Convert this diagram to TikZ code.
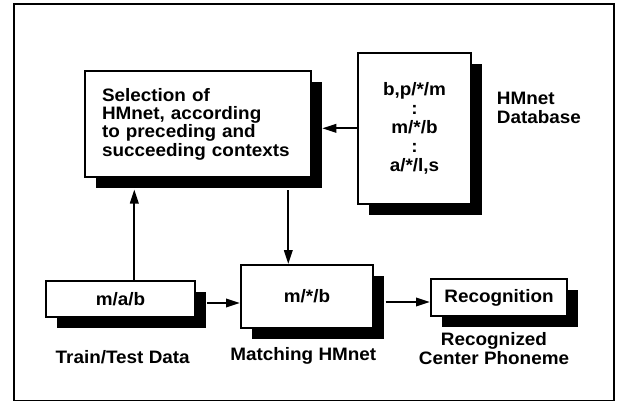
\documentclass[tikz,border=0pt]{standalone}
\usepackage{fontspec}
\setmainfont{Liberation Sans}[FakeStretch=1.05]
\usetikzlibrary{arrows.meta,shadows}
\begin{document}
\begin{tikzpicture}[x=1pt,y=-1pt,
  box/.style={draw=black,line width=2pt,fill=white,inner sep=0pt,
    drop shadow={shadow xshift=10.5pt,shadow yshift=-11pt,fill=black,opacity=1}},
  lbl/.style={inner sep=0pt,font=\fontsize{18}{18.3}\selectfont\bfseries},
  arr/.style={line width=2pt,-{Triangle[length=14pt,width=8.5pt]}},
  txt/.style={font=\fontsize{18}{18.3}\selectfont\bfseries}]
\useasboundingbox (0,0) rectangle (618,401);
\draw[line width=2pt] (14,4.3) rectangle (614,400.5);
% boxes
\node[box,txt,minimum width=226pt,minimum height=106pt,align=left,text width=192pt,inner xsep=17pt] (sel) at (198,124)
  {Selection of\\HMnet, according\\to preceding and\\succeeding contexts};
\node[box,minimum width=113pt,minimum height=151pt,align=center,font=\fontsize{18}{19}\selectfont\bfseries] (db) at (414.5,128.5)
  {b,p/*/m\\:\\m/*/b\\:\\a/*/l,s};
\node[box,txt,minimum width=149pt,minimum height=36pt] (mab) at (120.5,299) {m/a/b};
\node[box,txt,minimum width=132pt,minimum height=63pt] (mat) at (307,296.5) {m/*/b};
\node[box,txt,minimum width=136pt,minimum height=37pt] (rec) at (499,297.5) {Recognition};
% labels
\node[lbl,align=left,anchor=west] (dbl) at (496.7,108) {HMnet\\Database};
\node[lbl] (mabl) at (122.7,357.3) {Train/Test Data};
\node[lbl] (matl) at (303.3,356) {Matching HMnet};
\node[lbl,align=center] (recl) at (494,348.5) {Recognized\\Center Phoneme};
% connector end points
\coordinate (selin) at (134.3,189.5);
\coordinate (selout) at (288.3,190);
\coordinate (dbin) at (322.3,128.3);
\coordinate (mabout) at (207,303);
\coordinate (matout) at (385.5,302);
% connectors
\draw[arr] (mab.north -| selin) -- (selin);
\draw[arr] (selout) -- (mat.north -| selout);
\draw[arr] (db.west |- dbin) -- (dbin);
\draw[arr] (mabout) -- (mat.west |- mabout);
\draw[arr] (matout) -- (rec.west |- matout);
\end{tikzpicture}
\end{document}
